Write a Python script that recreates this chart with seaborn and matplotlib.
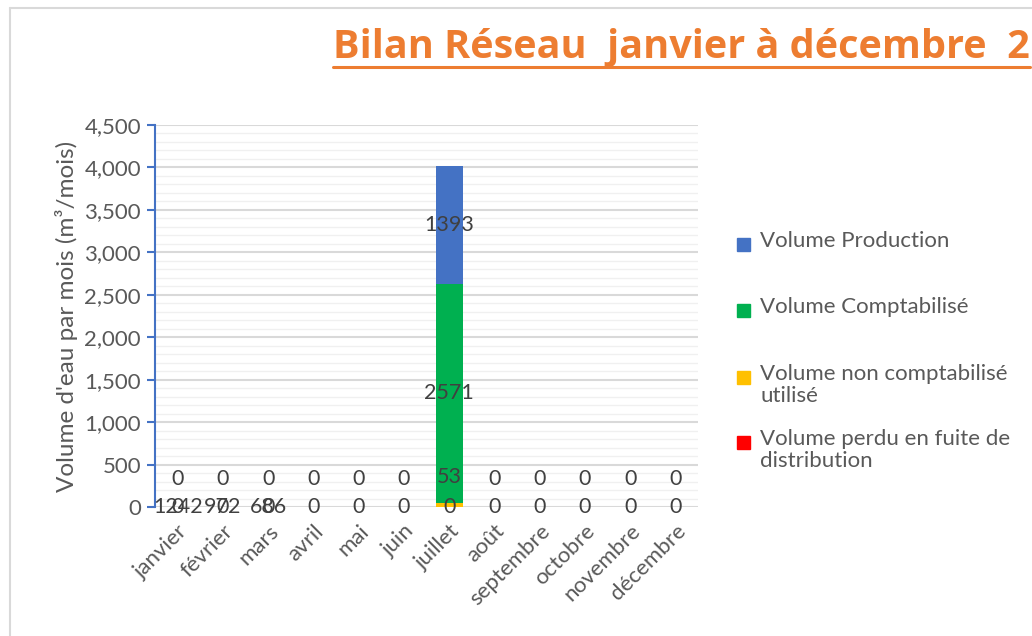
import pandas as pd
import matplotlib.pyplot as plt
import seaborn as sns
from matplotlib.patches import Rectangle
from matplotlib.lines import Line2D
from matplotlib.ticker import MultipleLocator, FuncFormatter

# Données du bilan réseau (m3 par mois)
mois = ["janvier", "février", "mars", "avril", "mai", "juin", "juillet",
        "août", "septembre", "octobre", "novembre", "décembre"]
volume_production = [0, 0, 0, 0, 0, 0, 1393, 0, 0, 0, 0, 0]
volume_comptabilise = [0, 0, 0, 0, 0, 0, 2571, 0, 0, 0, 0, 0]
volume_non_comptabilise = [0, 0, 0, 0, 0, 0, 53, 0, 0, 0, 0, 0]
volume_perdu = [0, 0, 0, 0, 0, 0, 0, 0, 0, 0, 0, 0]
# étiquettes affichées au pied des barres (hors échelle)
etiquettes_bas = [1242, 972, 686, 0, 0, 0, 0, 0, 0, 0, 0, 0]

noms = ["Volume Production", "Volume Comptabilisé",
        "Volume non comptabilisé\nutilisé", "Volume perdu en fuite de\ndistribution"]
couleurs = ["#4472C4", "#00B050", "#FFC000", "#FF0000"]

df = pd.DataFrame({
    "mois": mois,
    "perdu": volume_perdu,
    "non_compta": volume_non_comptabilise,
    "compta": volume_comptabilise,
    "production": volume_production,
})
df["c1"] = df["perdu"]
df["c2"] = df["c1"] + df["non_compta"]
df["c3"] = df["c2"] + df["compta"]
df["c4"] = df["c3"] + df["production"]

sns.set_theme(style="white")
plt.rcParams["font.family"] = ["Lato", "DejaVu Sans"]
gris = "#595959"

fig = plt.figure(figsize=(10.32, 6.36), dpi=100)
ax = fig.add_axes([155 / 1032, 1 - 507 / 636, 543 / 1032, 382 / 636])

# barres empilées : on dessine les cumuls du plus haut au plus bas
for col, c in zip(["c4", "c3", "c2", "c1"], couleurs):
    sns.barplot(data=df, x="mois", y=col, color=c, width=0.6, saturation=1,
                edgecolor="none", linewidth=0, ax=ax)

ax.set_xlim(-0.5, 11.5)
ax.set_ylim(0, 4500)
ax.yaxis.set_major_locator(MultipleLocator(500))
ax.yaxis.set_minor_locator(MultipleLocator(100))
ax.yaxis.set_major_formatter(FuncFormatter(lambda v, p: f"{int(v):,}"))
ax.set_axisbelow(True)
ax.grid(which="major", axis="y", color="#D9D9D9", lw=1.5)
ax.grid(which="minor", axis="y", color="#F0F0F0", lw=1)
for s in ["top", "right", "bottom"]:
    ax.spines[s].set_visible(False)
ax.spines["left"].set_color("#4472C4")
ax.spines["left"].set_linewidth(1.5)
ax.tick_params(axis="y", which="major", direction="out", length=6, width=1.5,
               color="#4472C4", labelsize=16, labelcolor=gris, pad=4, left=True)
ax.tick_params(axis="y", which="minor", left=False)
ax.tick_params(axis="x", length=0, labelsize=16, labelcolor=gris, pad=10)
ax.set_xticks(range(len(mois)))
ax.set_xticklabels(mois, rotation=45, ha="right", rotation_mode="anchor")
ax.set_xlabel("")
ax.set_ylabel("Volume d'eau par mois (m³/mois)", fontsize=17.5, color=gris, labelpad=5)

# étiquettes de données (les zéros des séries du haut se confondent avec celui du bas)
lab = dict(ha="center", va="center", fontsize=15.5, color="#404040")
for i in range(len(mois)):
    ax.text(i, df["c1"][i] / 2, f"{volume_perdu[i]}", **lab)
    ax.annotate(f"{volume_non_comptabilise[i]}", (i, df["c1"][i] + volume_non_comptabilise[i] / 2),
                xytext=(0, 20), textcoords="offset points", **lab)
    if volume_comptabilise[i]:
        ax.text(i, df["c2"][i] + volume_comptabilise[i] / 2, f"{volume_comptabilise[i]}", **lab)
    if volume_production[i]:
        ax.text(i, df["c3"][i] + volume_production[i] / 2, f"{volume_production[i]}", **lab)
    if etiquettes_bas[i]:
        ax.text(i, 0, f"{etiquettes_bas[i]}", **lab)

# légende
ys = [244, 310, 377, 442]
for n, c, y in zip(noms, couleurs, ys):
    fig.patches.append(Rectangle((737 / 1032, 1 - (y + 7) / 636), 13 / 1032, 13 / 636,
                                 transform=fig.transFigure, color=c))
    fig.text(760 / 1032, 1 - (y - 13) / 636, n, fontsize=16, color=gris,
             va="top", ha="left", linespacing=1.1)

# titre souligné
titre = fig.text(333 / 1032, 1 - 58 / 636, "Bilan Réseau  janvier à décembre  2",
                 fontsize=28.5, fontweight="bold", color="#ED7D31", ha="left", va="baseline",
                 family=["Open Sans", "DejaVu Sans"])
fig.canvas.draw()
bb = titre.get_window_extent()
fig.add_artist(Line2D([bb.x0 / 1032, bb.x1 / 1032], [1 - 67 / 636] * 2,
                      transform=fig.transFigure, color="#ED7D31", lw=2.2))

# bordures du cadre
fig.add_artist(Line2D([10 / 1032, 10 / 1032], [0, 1 - 8 / 636], transform=fig.transFigure,
                      color="#D9D9D9", lw=1.5))
fig.add_artist(Line2D([10 / 1032, 1], [1 - 8 / 636] * 2, transform=fig.transFigure,
                      color="#D9D9D9", lw=1.5))

fig.savefig("out.png", dpi=100)
